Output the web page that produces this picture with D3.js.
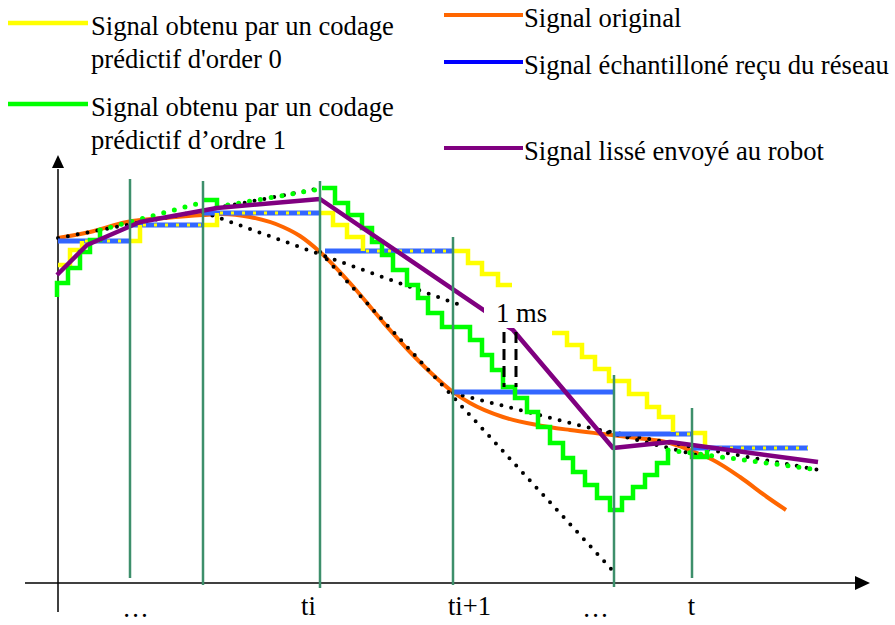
<!DOCTYPE html>
<html>
<head>
  <script src="https://d3js.org/d3.v7.min.js"></script>
  <style>
    body { margin: 0; background: #fff; }
    svg { display: block; }
    text { font-family: "Liberation Serif", "Times New Roman", serif; font-size: 26.6px; fill: #000; }
    .axis path { display: none; }
    .axis line { display: none; }
  </style>
</head>
<body>
  <script>
    // time axis in arbitrary units, amplitude in arbitrary units
    var sampleTimes  = [72, 145, 262, 395, 556, 634];
    var sampleTops   = [404, 402, 402, 346, 208, 175];
    var sampleBottoms = [5, -2, -5, -2, -4, 5];

    var tickPos    = [77, 250, 411, 537, 633];
    var tickLabels = ["…", "ti", "ti+1", "…", "t"];

    // signal original
    var original = [[0,345],[32,351],[69,361],[107,365],[145,368],[164,369],[192,366],[225,356],[242,347],
      [262,331],[292,300],[325,261],[352,231],[372,211],[395,191],[412,180],[445,166],[479,158],[512,153],
      [545,149],[579,145],[612,140],[639,130],[655,123],[682,106],[709,86],[728,73]];

    // échantillons reçus (maintien)
    var received = [
      {t0: 0, t1: 72, v: 342}, {t0: 72, t1: 145, v: 358}, {t0: 145, t1: 262, v: 370},
      {t0: 267, t1: 395, v: 332}, {t0: 395, t1: 556, v: 191}, {t0: 556, t1: 634, v: 149},
      {t0: 634, t1: 750, v: 135}];

    // prédictif ordre 0 : parties pleines et parties confondues avec le signal reçu
    var order0 = [
      [[0,318],[12,318],[12,333],[24,333],[24,342]],
      [[72,342],[82,342],[82,358]],
      [[145,358],[159,358],[159,370]],
      [[262,370],[275,370],[275,358],[289,358],[289,346],[305,346],[305,332]],
      [[395,332],[410,332],[410,320],[424,320],[424,309],[440,309],[440,298],[454,298]],
      [[494,250],[509,250],[509,238],[524,238],[524,226],[537,226],[537,214],[551,214],[551,202],
       [571,202],[571,189],[589,189],[589,176],[601,176],[601,166],[615,166],[615,151]],
      [[634,150],[647,150],[647,136]]];
    var order0OnReceived = [
      {t0: 24, t1: 72, v: 342}, {t0: 82, t1: 145, v: 358}, {t0: 159, t1: 262, v: 370},
      {t0: 305, t1: 395, v: 332}, {t0: 615, t1: 634, v: 149}, {t0: 647, t1: 750, v: 135}];

    // prédictif ordre 1
    var order1 = [
      [[-1,286],[-1,300],[10,300],[10,315],[22,315],[22,331],[32,331],[32,343],[42,343],[42,355]],
      [[144,383],[159,383],[159,376]],
      [[264,395],[277,395],[277,380],[290,380],[290,368],[304,368],[304,355],[314,355],[314,341],
       [324,341],[324,328],[335,328],[335,313],[349,313],[349,298],[360,298],[360,285],[370,285],
       [370,270],[384,270],[384,256],[412,256],[412,243],[424,243],[424,228],[434,228],[434,213],
       [445,213],[445,196],[457,196],[457,185],[469,185],[469,171],[480,171],[480,156],[492,156],
       [492,140],[505,140],[505,125],[515,125],[515,111],[527,111],[527,98],[539,98],[539,85],
       [552,85],[552,73],[564,73],[564,85],[575,85],[575,96],[587,96],[587,108],[599,108],
       [599,120],[610,120],[610,133]],
      [[634,131],[634,126],[649,126],[649,133]]];
    var order1Extrap = [
      [[42,353],[142,380]], [[159,376],[262,394]], [[610,133],[762,113]]];

    // tangentes
    var tangents = [
      [[0,345],[264,395]], [[145,371],[402,278]], [[262,331],[556,11]],
      [[395,190],[642,127]], [[542,153],[767,112]]];

    // signal lissé
    var smoothed = [[-1,308],[29,338],[82,361],[159,375],[262,384],[455,253],[555,135],[612,141],[760,121]];

    var delayMarks = [446, 458];
    var delayFrom = 251, delayTo = 196;

    var legendLeft = [
      {color: "#ffff00", lines: ["Signal obtenu par un codage", "prédictif d'order 0"]},
      {color: "#00ff00", lines: ["Signal obtenu par un codage", "prédictif d’ordre 1"]}];
    var legendRight = [
      {color: "#ff6600", label: "Signal original"},
      {color: "#0000ff", label: "Signal échantilloné reçu du réseau"},
      {color: "#800080", label: "Signal lissé envoyé au robot"}];

    var width = 895, height = 625;
    var svg = d3.select("body").append("svg")
        .attr("width", width)
        .attr("height", height);

    var x = d3.scaleLinear().domain([0, 810]).range([58, 868]);
    var y = d3.scaleLinear().domain([0, 400]).range([583, 183]);

    var line = d3.line().x(function(d) { return x(d[0]); }).y(function(d) { return y(d[1]); });

    // axes
    svg.append("line")
        .attr("x1", x(-33)).attr("x2", x(798)).attr("y1", y(0)).attr("y2", y(0))
        .attr("stroke", "#000").attr("stroke-width", 1.5);
    svg.append("path")
        .attr("d", "M" + x(797) + "," + (y(0) - 7) + "L" + x(812) + "," + y(0) + "L" + x(797) + "," + (y(0) + 7) + "Z")
        .attr("fill", "#000");
    svg.append("line")
        .attr("x1", x(0)).attr("x2", x(0)).attr("y1", y(-29)).attr("y2", y(414))
        .attr("stroke", "#000").attr("stroke-width", 1.5);
    svg.append("path")
        .attr("d", "M" + (x(0) - 6) + "," + y(415) + "L" + x(0) + "," + y(428) + "L" + (x(0) + 6) + "," + y(415) + "Z")
        .attr("fill", "#000");

    var xAxis = d3.axisBottom(x)
        .tickValues(tickPos)
        .tickFormat(function(d, i) { return tickLabels[i]; })
        .tickSize(0)
        .tickPadding(13);
    var gx = svg.append("g")
        .attr("class", "x axis")
        .attr("transform", "translate(0," + y(0) + ")")
        .call(xAxis);
    gx.selectAll("text")
        .attr("dy", function(d, i) { return tickLabels[i] === "…" ? "0.8em" : "0.71em"; });
    gx.attr("font-size", null).attr("font-family", null);

    // signal original
    svg.append("path")
        .datum(original)
        .attr("d", line.curve(d3.curveMonotoneX))
        .attr("fill", "none").attr("stroke", "#ff6600").attr("stroke-width", 4);
    line.curve(d3.curveLinear);

    // tangentes
    svg.selectAll(".tangent")
        .data(tangents)
      .enter().append("path")
        .attr("class", "tangent")
        .attr("d", line)
        .attr("fill", "none").attr("stroke", "#000").attr("stroke-width", 4)
        .attr("stroke-linecap", "round").attr("stroke-dasharray", "0,10");

    // échantillons reçus
    svg.selectAll(".received")
        .data(received)
      .enter().append("line")
        .attr("class", "received")
        .attr("x1", function(d) { return x(d.t0); })
        .attr("x2", function(d) { return x(d.t1); })
        .attr("y1", function(d) { return y(d.v); })
        .attr("y2", function(d) { return y(d.v); })
        .attr("stroke", "#3366ff").attr("stroke-width", 5);

    svg.selectAll(".order0-dots")
        .data(order0OnReceived)
      .enter().append("line")
        .attr("class", "order0-dots")
        .attr("x1", function(d) { return x(d.t0) + 3; })
        .attr("x2", function(d) { return x(d.t1); })
        .attr("y1", function(d) { return y(d.v); })
        .attr("y2", function(d) { return y(d.v); })
        .attr("stroke", "#ffff00").attr("stroke-width", 3)
        .attr("stroke-dasharray", "3,8");

    svg.selectAll(".order0")
        .data(order0)
      .enter().append("path")
        .attr("class", "order0")
        .attr("d", line)
        .attr("fill", "none").attr("stroke", "#ffff00").attr("stroke-width", 4.5);

    svg.selectAll(".order1x")
        .data(order1Extrap)
      .enter().append("path")
        .attr("class", "order1x")
        .attr("d", line)
        .attr("fill", "none").attr("stroke", "#00ff00").attr("stroke-width", 5)
        .attr("stroke-linecap", "round").attr("stroke-dasharray", "0,11");

    svg.selectAll(".order1")
        .data(order1)
      .enter().append("path")
        .attr("class", "order1")
        .attr("d", line)
        .attr("fill", "none").attr("stroke", "#00ff00").attr("stroke-width", 4.5);

    // signal lissé
    svg.append("path")
        .datum(smoothed)
        .attr("d", line)
        .attr("fill", "none").attr("stroke", "#800080").attr("stroke-width", 4.5)
        .attr("stroke-linejoin", "round");

    // instants d'échantillonnage
    svg.selectAll(".sample")
        .data(sampleTimes)
      .enter().append("line")
        .attr("class", "sample")
        .attr("x1", function(d) { return x(d); })
        .attr("x2", function(d) { return x(d); })
        .attr("y1", function(d, i) { return y(sampleBottoms[i]); })
        .attr("y2", function(d, i) { return y(sampleTops[i]); })
        .attr("stroke", "#3d8f6b").attr("stroke-width", 2.5);

    // retard 1 ms
    svg.append("rect")
        .attr("x", x(426)).attr("y", y(293)).attr("width", 67).attr("height", 38)
        .attr("fill", "#fff");
    svg.append("text")
        .attr("x", x(438)).attr("y", y(261))
        .text("1 ms");
    svg.selectAll(".delay")
        .data(delayMarks)
      .enter().append("line")
        .attr("class", "delay")
        .attr("x1", function(d) { return x(d); })
        .attr("x2", function(d) { return x(d); })
        .attr("y1", y(delayFrom)).attr("y2", y(delayTo))
        .attr("stroke", "#000").attr("stroke-width", 3)
        .attr("stroke-dasharray", "11,6");

    // légendes
    var gl = svg.selectAll(".leg-left")
        .data(legendLeft)
      .enter().append("g")
        .attr("class", "leg-left")
        .attr("transform", function(d, i) { return "translate(0," + (i * 81) + ")"; });
    gl.append("line")
        .attr("x1", 8).attr("x2", 88).attr("y1", 23).attr("y2", 23)
        .attr("stroke", function(d) { return d.color; }).attr("stroke-width", 4.5);
    gl.append("text").attr("x", 91).attr("y", 35).text(function(d) { return d.lines[0]; });
    gl.append("text").attr("x", 91).attr("y", 68).text(function(d) { return d.lines[1]; });

    var legendRightY = [15, 62, 148];
    var gr = svg.selectAll(".leg-right")
        .data(legendRight)
      .enter().append("g")
        .attr("class", "leg-right")
        .attr("transform", function(d, i) { return "translate(0," + legendRightY[i] + ")"; });
    gr.append("line")
        .attr("x1", 444).attr("x2", 523).attr("y1", 0).attr("y2", 0)
        .attr("stroke", function(d) { return d.color; }).attr("stroke-width", 4);
    gr.append("text").attr("x", 524).attr("y", 12).text(function(d) { return d.label; });
  </script>
</body>
</html>
